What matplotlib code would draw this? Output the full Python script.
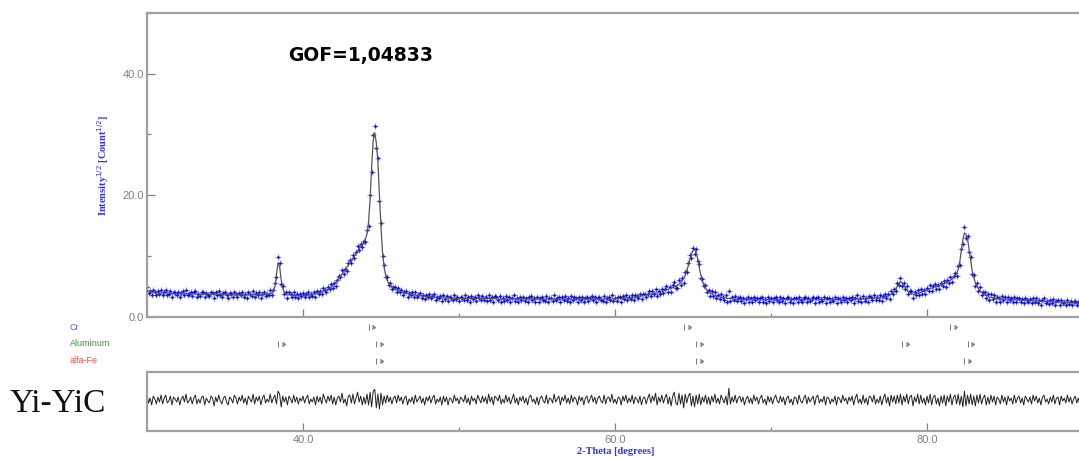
import numpy as np
import matplotlib
matplotlib.use("Agg")
import matplotlib.pyplot as plt
from matplotlib.transforms import blended_transform_factory
from matplotlib.ticker import MultipleLocator, NullLocator

# ---------------- data ----------------
two_theta_start = 30.0
two_theta_step = 0.1

# calculated profile, one row per degree (x.0 ... x.9), last value at 90.0
calc = [
    4.3, 4.2, 4.1, 4.1, 4.0, 4.0, 4.0, 3.9, 3.9, 3.9,
    3.9, 3.9, 3.9, 3.9, 3.9, 3.8, 3.8, 3.8, 3.8, 3.8,
    3.8, 3.8, 3.8, 3.8, 3.8, 3.8, 3.8, 3.8, 3.8, 3.8,
    3.8, 3.8, 3.7, 3.7, 3.7, 3.7, 3.7, 3.7, 3.7, 3.7,
    3.7, 3.7, 3.7, 3.7, 3.7, 3.7, 3.7, 3.7, 3.7, 3.7,
    3.7, 3.7, 3.6, 3.6, 3.6, 3.6, 3.6, 3.6, 3.6, 3.6,
    3.6, 3.6, 3.6, 3.6, 3.6, 3.6, 3.6, 3.6, 3.6, 3.6,
    3.6, 3.6, 3.6, 3.6, 3.6, 3.6, 3.7, 3.7, 3.7, 3.8,
    3.9, 4.2, 5.0, 7.0, 8.9, 8.3, 6.1, 4.7, 4.0, 3.7,
    3.6, 3.6, 3.6, 3.5, 3.5, 3.5, 3.5, 3.5, 3.5, 3.5,
    3.5, 3.5, 3.5, 3.5, 3.6, 3.6, 3.6, 3.7, 3.8, 3.9,
    3.9, 4.0, 4.1, 4.2, 4.3, 4.4, 4.5, 4.7, 4.9, 5.1,
    5.3, 5.6, 5.9, 6.3, 6.7, 7.0, 7.4, 7.8, 8.1, 8.5,
    8.8, 9.2, 9.6, 10.0, 10.4, 10.8, 11.2, 11.6, 11.9, 12.2,
    12.7, 13.6, 15.5, 19.3, 24.6, 29.0, 30.3, 28.6, 25.6, 19.9,
    14.8, 10.5, 8.1, 6.8, 6.0, 5.5, 5.2, 4.9, 4.7, 4.5,
    4.4, 4.3, 4.2, 4.1, 4.0, 3.9, 3.9, 3.8, 3.8, 3.7,
    3.7, 3.6, 3.6, 3.5, 3.5, 3.5, 3.4, 3.4, 3.4, 3.3,
    3.3, 3.3, 3.3, 3.2, 3.2, 3.2, 3.2, 3.2, 3.1, 3.1,
    3.1, 3.1, 3.1, 3.1, 3.0, 3.0, 3.0, 3.0, 3.0, 3.0,
    3.0, 3.0, 3.0, 3.0, 3.0, 3.0, 3.0, 3.0, 3.0, 3.0,
    3.0, 3.0, 3.0, 3.0, 3.0, 3.0, 3.0, 3.0, 3.0, 3.0,
    3.0, 3.0, 3.0, 3.0, 3.0, 2.9, 2.9, 2.9, 2.9, 2.9,
    2.9, 2.9, 2.9, 2.9, 2.9, 2.9, 2.9, 2.9, 2.9, 2.9,
    2.9, 2.9, 2.9, 2.9, 2.9, 2.9, 2.9, 2.9, 2.9, 2.9,
    2.9, 2.9, 2.9, 2.9, 2.9, 2.9, 2.9, 2.9, 2.9, 2.9,
    2.9, 2.9, 2.9, 2.9, 2.9, 2.9, 2.9, 2.9, 2.9, 2.9,
    2.9, 2.9, 2.9, 2.9, 2.9, 2.9, 2.9, 2.9, 2.9, 2.9,
    2.9, 2.9, 2.9, 2.9, 2.9, 2.9, 2.9, 2.9, 2.9, 2.9,
    2.9, 2.9, 2.9, 2.9, 2.9, 2.9, 2.9, 2.9, 2.9, 2.9,
    3.0, 3.0, 3.0, 3.0, 3.0, 3.0, 3.0, 3.1, 3.1, 3.1,
    3.1, 3.1, 3.2, 3.2, 3.3, 3.3, 3.4, 3.4, 3.5, 3.5,
    3.6, 3.6, 3.7, 3.7, 3.8, 3.8, 3.9, 3.9, 4.0, 4.0,
    4.1, 4.2, 4.3, 4.4, 4.5, 4.6, 4.7, 4.8, 4.9, 5.0,
    5.2, 5.4, 5.6, 5.9, 6.3, 6.8, 7.6, 8.4, 9.4, 10.3,
    10.9, 11.1, 10.6, 9.5, 8.1, 6.9, 5.9, 5.2, 4.7, 4.4,
    4.1, 3.9, 3.8, 3.6, 3.5, 3.4, 3.3, 3.3, 3.2, 3.2,
    3.1, 3.1, 3.0, 3.0, 3.0, 3.0, 2.9, 2.9, 2.9, 2.9,
    2.8, 2.8, 2.8, 2.8, 2.8, 2.8, 2.8, 2.8, 2.8, 2.8,
    2.8, 2.8, 2.8, 2.8, 2.8, 2.8, 2.8, 2.8, 2.8, 2.8,
    2.8, 2.8, 2.8, 2.8, 2.8, 2.8, 2.8, 2.8, 2.8, 2.8,
    2.8, 2.8, 2.8, 2.8, 2.8, 2.8, 2.8, 2.8, 2.8, 2.8,
    2.8, 2.8, 2.8, 2.8, 2.8, 2.8, 2.8, 2.8, 2.8, 2.8,
    2.8, 2.8, 2.8, 2.8, 2.8, 2.8, 2.8, 2.8, 2.8, 2.8,
    2.8, 2.8, 2.8, 2.8, 2.8, 2.8, 2.8, 2.8, 2.8, 2.8,
    2.8, 2.8, 2.8, 2.8, 2.9, 2.9, 2.9, 2.9, 2.9, 2.9,
    2.9, 2.9, 3.0, 3.0, 3.0, 3.0, 3.0, 3.1, 3.1, 3.1,
    3.1, 3.1, 3.2, 3.2, 3.3, 3.4, 3.5, 3.7, 3.9, 4.2,
    4.6, 5.0, 5.5, 5.8, 5.6, 5.2, 4.8, 4.4, 4.1, 3.9,
    3.8, 3.7, 3.7, 3.7, 3.8, 3.9, 4.0, 4.1, 4.2, 4.3,
    4.4, 4.5, 4.6, 4.7, 4.8, 4.9, 4.9, 5.0, 5.1, 5.2,
    5.3, 5.4, 5.5, 5.6, 5.8, 6.0, 6.2, 6.4, 6.7, 7.1,
    7.8, 9.0, 10.8, 12.7, 13.8, 13.6, 12.8, 11.0, 9.2, 7.5,
    6.4, 5.6, 5.0, 4.6, 4.3, 4.0, 3.8, 3.6, 3.5, 3.4,
    3.2, 3.2, 3.1, 3.1, 3.0, 3.0, 3.0, 2.9, 2.9, 2.9,
    2.9, 2.9, 2.9, 2.8, 2.8, 2.8, 2.8, 2.8, 2.8, 2.7,
    2.7, 2.7, 2.7, 2.7, 2.7, 2.6, 2.6, 2.6, 2.6, 2.6,
    2.6, 2.6, 2.6, 2.5, 2.5, 2.5, 2.5, 2.5, 2.5, 2.5,
    2.5, 2.4, 2.4, 2.4, 2.4, 2.4, 2.4, 2.4, 2.3, 2.3,
    2.3, 2.3, 2.3, 2.3, 2.3, 2.2, 2.2, 2.2, 2.2, 2.2,
    2.2,
]

# difference curve (observed - calculated), same sampling
diff = [
    0.6, -0.3, 0.2, -0.5, 0.4, 0.1, -0.4, 0.3, -0.2, 0.5,
    -0.4, 0.2, 0.5, -0.3, -0.1, 0.4, -0.5, 0.3, 0.1, -0.2,
    0.3, -0.5, 0.1, 0.4, -0.2, 0.6, -0.3, -0.1, 0.3, -0.4,
    0.2, 0.5, -0.4, 0.1, -0.3, 0.3, 0.4, -0.5, 0.2, -0.1,
    -0.3, 0.4, 0.2, -0.6, 0.3, -0.2, 0.5, -0.1, -0.4, 0.2,
    0.4, -0.2, -0.5, 0.3, 0.1, -0.3, 0.5, 0.2, -0.4, 0.3,
    -0.1, 0.5, -0.3, 0.2, -0.5, 0.4, 0.1, -0.2, 0.6, -0.4,
    0.3, -0.1, 0.4, -0.5, 0.2, 0.5, -0.3, 0.1, -0.2, 0.6,
    -0.3, 0.2, 0.5, -0.4, 0.9, 0.6, -0.7, 0.4, -0.2, 0.3,
    -0.5, 0.4, 0.1, -0.3, 0.5, -0.2, 0.3, -0.4, 0.2, -0.1,
    0.4, -0.3, 0.2, 0.5, -0.4, 0.1, -0.2, 0.3, -0.5, 0.4,
    -0.2, 0.3, -0.4, 0.6, 0.1, -0.3, 0.4, -0.1, 0.5, -0.4,
    0.3, -0.5, 0.2, 0.4, -0.2, 0.7, -0.3, 0.1, -0.6, 0.4,
    0.5, -0.3, 0.6, -0.4, 0.2, 0.8, -0.2, 0.4, -0.5, 0.3,
    -0.4, 0.6, -0.5, 0.8, -0.7, 0.9, 1.1, -0.8, 0.6, -0.9,
    0.7, -0.5, 0.4, -0.3, 0.5, -0.2, 0.3, -0.4, 0.2, 0.4,
    -0.3, 0.5, -0.1, 0.3, -0.4, 0.2, 0.4, -0.5, 0.1, -0.2,
    0.3, -0.4, 0.5, -0.2, 0.1, 0.4, -0.3, 0.2, -0.5, 0.3,
    -0.1, 0.4, -0.3, 0.2, 0.5, -0.4, 0.1, -0.2, 0.3, -0.5,
    0.4, -0.2, 0.3, -0.5, 0.2, 0.1, -0.3, 0.5, -0.1, 0.2,
    -0.4, 0.3, 0.1, -0.2, 0.5, -0.3, 0.2, -0.5, 0.4, -0.1,
    0.2, -0.4, 0.5, 0.1, -0.3, 0.4, -0.2, 0.3, -0.4, 0.6,
    -0.2, 0.3, -0.5, 0.4, 0.2, -0.1, 0.5, -0.4, 0.1, -0.3,
    0.5, -0.2, 0.3, -0.4, 0.1, 0.6, -0.3, 0.2, -0.5, 0.3,
    -0.1, 0.4, -0.3, 0.2, -0.5, 0.3, 0.5, -0.2, 0.1, -0.4,
    0.3, -0.5, 0.2, 0.4, -0.1, -0.3, 0.5, -0.4, 0.2, 0.1,
    -0.3, 0.6, -0.2, 0.1, 0.4, -0.5, 0.3, -0.1, 0.5, -0.3,
    0.2, -0.4, 0.5, -0.2, 0.3, 0.1, -0.5, 0.4, -0.1, 0.3,
    -0.5, 0.2, 0.4, -0.3, 0.1, 0.5, -0.2, 0.3, -0.4, 0.2,
    0.4, -0.1, -0.3, 0.5, -0.4, 0.2, 0.3, -0.2, 0.6, -0.3,
    0.1, -0.4, 0.3, 0.2, -0.5, 0.4, -0.1, 0.5, -0.3, 0.2,
    -0.2, 0.5, -0.4, 0.3, 0.1, -0.3, 0.4, -0.5, 0.2, 0.3,
    -0.4, 0.2, 0.6, -0.3, 0.4, -0.1, 0.7, -0.5, 0.3, -0.2,
    0.5, -0.3, 0.2, 0.6, -0.4, 0.3, -0.6, 0.4, 0.8, -0.3,
    -0.5, 0.7, -0.4, 0.5, -0.8, 0.6, -0.3, 0.4, 0.7, -0.6,
    0.4, -0.7, 0.5, -0.4, 0.6, -0.5, 0.3, -0.2, 0.5, -0.4,
    0.3, -0.5, 0.4, -0.2, 0.6, -0.3, 0.2, -0.4, 0.5, 0.1,
    -0.3, 0.4, -0.5, 1.2, -0.4, 0.3, -0.2, 0.5, -0.3, 0.2,
    0.4, -0.2, 0.3, -0.5, 0.1, 0.4, -0.3, 0.2, -0.4, 0.5,
    -0.1, 0.3, -0.4, 0.2, 0.5, -0.3, 0.1, -0.5, 0.4, -0.2,
    0.3, -0.4, 0.2, 0.5, -0.1, -0.3, 0.4, -0.2, 0.3, -0.5,
    0.2, 0.4, -0.3, 0.1, -0.5, 0.3, 0.2, -0.4, 0.5, -0.1,
    -0.3, 0.2, 0.5, -0.4, 0.3, -0.2, 0.1, 0.4, -0.5, 0.3,
    0.5, -0.3, 0.1, -0.2, 0.4, -0.5, 0.3, 0.2, -0.4, 0.1,
    -0.2, 0.4, -0.5, 0.3, 0.1, -0.3, 0.5, -0.1, 0.2, -0.4,
    0.3, -0.1, 0.4, -0.5, 0.2, 0.6, -0.3, 0.1, -0.4, 0.5,
    -0.3, 0.2, -0.5, 0.4, 0.3, -0.2, 0.5, -0.4, 0.1, -0.3,
    0.4, -0.5, 0.2, 0.6, -0.3, 0.3, -0.6, 0.5, -0.2, 0.4,
    -0.4, 0.5, -0.3, 0.6, -0.5, 0.4, -0.2, 0.6, -0.4, 0.3,
    0.5, -0.6, 0.3, -0.2, 0.6, -0.4, 0.5, -0.3, 0.2, -0.5,
    0.4, -0.3, 0.6, -0.5, 0.3, 0.5, -0.4, 0.2, -0.6, 0.4,
    -0.3, 0.5, -0.6, 0.4, -0.2, 0.6, -0.5, 0.3, 0.5, -0.4,
    0.6, -0.5, 0.4, -0.7, 0.9, -0.6, 0.5, -0.4, 0.6, -0.5,
    0.4, -0.6, 0.5, -0.3, 0.6, -0.4, 0.2, 0.5, -0.5, 0.3,
    -0.4, 0.5, -0.2, 0.4, -0.5, 0.3, 0.1, -0.4, 0.5, -0.2,
    0.3, -0.5, 0.4, -0.1, 0.2, -0.4, 0.5, -0.3, 0.2, 0.4,
    -0.3, 0.2, -0.5, 0.4, 0.1, -0.2, 0.3, -0.4, 0.5, -0.1,
    0.4, -0.3, 0.2, -0.5, 0.3, 0.5, -0.2, 0.1, -0.4, 0.3,
    -0.2, 0.5, -0.4, 0.2, 0.3, -0.5, 0.4, -0.1, 0.2, -0.3,
    0.5, -0.2, 0.3, -0.4, 0.1, 0.4, -0.3, 0.2, -0.5, 0.3,
    -0.2,
]

phase_names = ["Cr", "Aluminum", "alfa-Fe"]
phase_colors = ["#5c5cff", "#3a963a", "#ff4a4a"]
cr_peaks = [44.2, 64.4, 81.5]
al_peaks = [38.4, 44.7, 65.2, 78.4, 82.6]
fe_peaks = [44.7, 65.2, 82.4]
phase_peaks = [cr_peaks, al_peaks, fe_peaks]

x_major = [40, 60, 80]
y_major = [0, 20, 40]
gof_text = "GOF=1,04833"
sample_label = "Yi-YiC"
y_label = r"Intensity$^{1/2}$ [Count$^{1/2}$]"
x_label = "2-Theta [degrees]"

# ---------------- derived ----------------
calc_arr = np.array(calc)
obs_arr = calc_arr + np.array(diff)
two_theta = two_theta_start + two_theta_step * np.arange(len(calc_arr))

# ---------------- figure ----------------
W, H = 1079, 459
fig = plt.figure(figsize=(W / 100, H / 100), dpi=100)


def rect(l, t, r, b):
    return [l / W, 1 - b / H, (r - l) / W, (b - t) / H]


spine_col = "#a0a0a0"
tick_col = "#808080"

ax = fig.add_axes(rect(147, 13, 1083, 316.7))
axt = fig.add_axes(rect(147, 318, 1083, 370))
axr = fig.add_axes(rect(147, 372, 1083, 431))

# main pattern
ax.plot(two_theta, obs_arr, linestyle="none", marker="+", ms=4.2, mew=0.8,
        color="#2a2aff", alpha=0.55, zorder=2)
ax.plot(two_theta, obs_arr, linestyle="none", marker=".", ms=2.0,
        color="#0000e0", alpha=0.8, zorder=2)
ax.plot(two_theta, calc_arr, color="#555555", lw=0.9, zorder=3)
ax.set_xlim(30, 90)
ax.set_ylim(0, 50)
ax.set_yticks(y_major)
ax.set_yticklabels([f"{v:.1f}" for v in y_major])
ax.yaxis.set_minor_locator(MultipleLocator(10))
ax.set_xticks(x_major)
ax.set_xticklabels([])
ax.xaxis.set_minor_locator(MultipleLocator(10))

for a in (ax, axr):
    for s in a.spines.values():
        s.set_color(spine_col)
        s.set_linewidth(1.6)
    a.tick_params(which="both", direction="in", colors=tick_col,
                  labelcolor=tick_col, labelsize=8)
    a.tick_params(which="major", length=6, width=0.9)
    a.tick_params(which="minor", length=3, width=0.9)
ax.tick_params(axis="y", pad=2)
for lab in ax.get_yticklabels():
    lab.set_fontfamily("Liberation Sans")

# phase tick marks
axt.set_xlim(30, 90)
axt.set_ylim(-2.53, 0.53)
axt.axis("off")
lab_tr = blended_transform_factory(fig.transFigure, axt.transData)
for i, (name, col, peaks) in enumerate(zip(phase_names, phase_colors, phase_peaks)):
    yv = np.full(len(peaks), -float(i))
    axt.plot(peaks, yv, linestyle="none", marker="|", ms=4, mew=0.7, color="#777777")
    axt.plot(np.array(peaks) + 0.25, yv, linestyle="none", marker=9, ms=3.0,
             color="#888888")
    axt.text(70 / W, -i, name, transform=lab_tr, color=col, fontsize=6.5,
             ha="left", va="center", family="Liberation Sans")

# difference curve
axr.plot(two_theta, obs_arr - calc_arr, color="#222222", lw=0.7)
axr.set_xlim(30, 90)
axr.set_ylim(-3.15, 2.85)
axr.yaxis.set_major_locator(NullLocator())
axr.set_xticks(x_major)
axr.set_xticklabels([f"{v:.1f}" for v in x_major], family="Liberation Sans")
axr.xaxis.set_minor_locator(MultipleLocator(10))
axr.tick_params(axis="x", pad=3)

# texts
fig.text(103 / W, 1 - 165 / H, y_label, rotation=90, ha="center", va="center",
         color="#3030ff", fontsize=7.5, fontweight="bold", family="Liberation Serif")
fig.text(616 / W, 1 - 452 / H, x_label, ha="center", va="center",
         color="#3030ff", fontsize=7.5, fontweight="bold", family="Liberation Serif")
fig.text(288 / W, 1 - 55 / H, gof_text, ha="left", va="center", color="black",
         fontsize=13.5, fontweight="bold", family="DejaVu Sans")
fig.text(10 / W, 1 - 412 / H, sample_label, ha="left", va="baseline",
         color="#111111", fontsize=24, family="Liberation Serif")

fig.savefig("out.png", dpi=100)
